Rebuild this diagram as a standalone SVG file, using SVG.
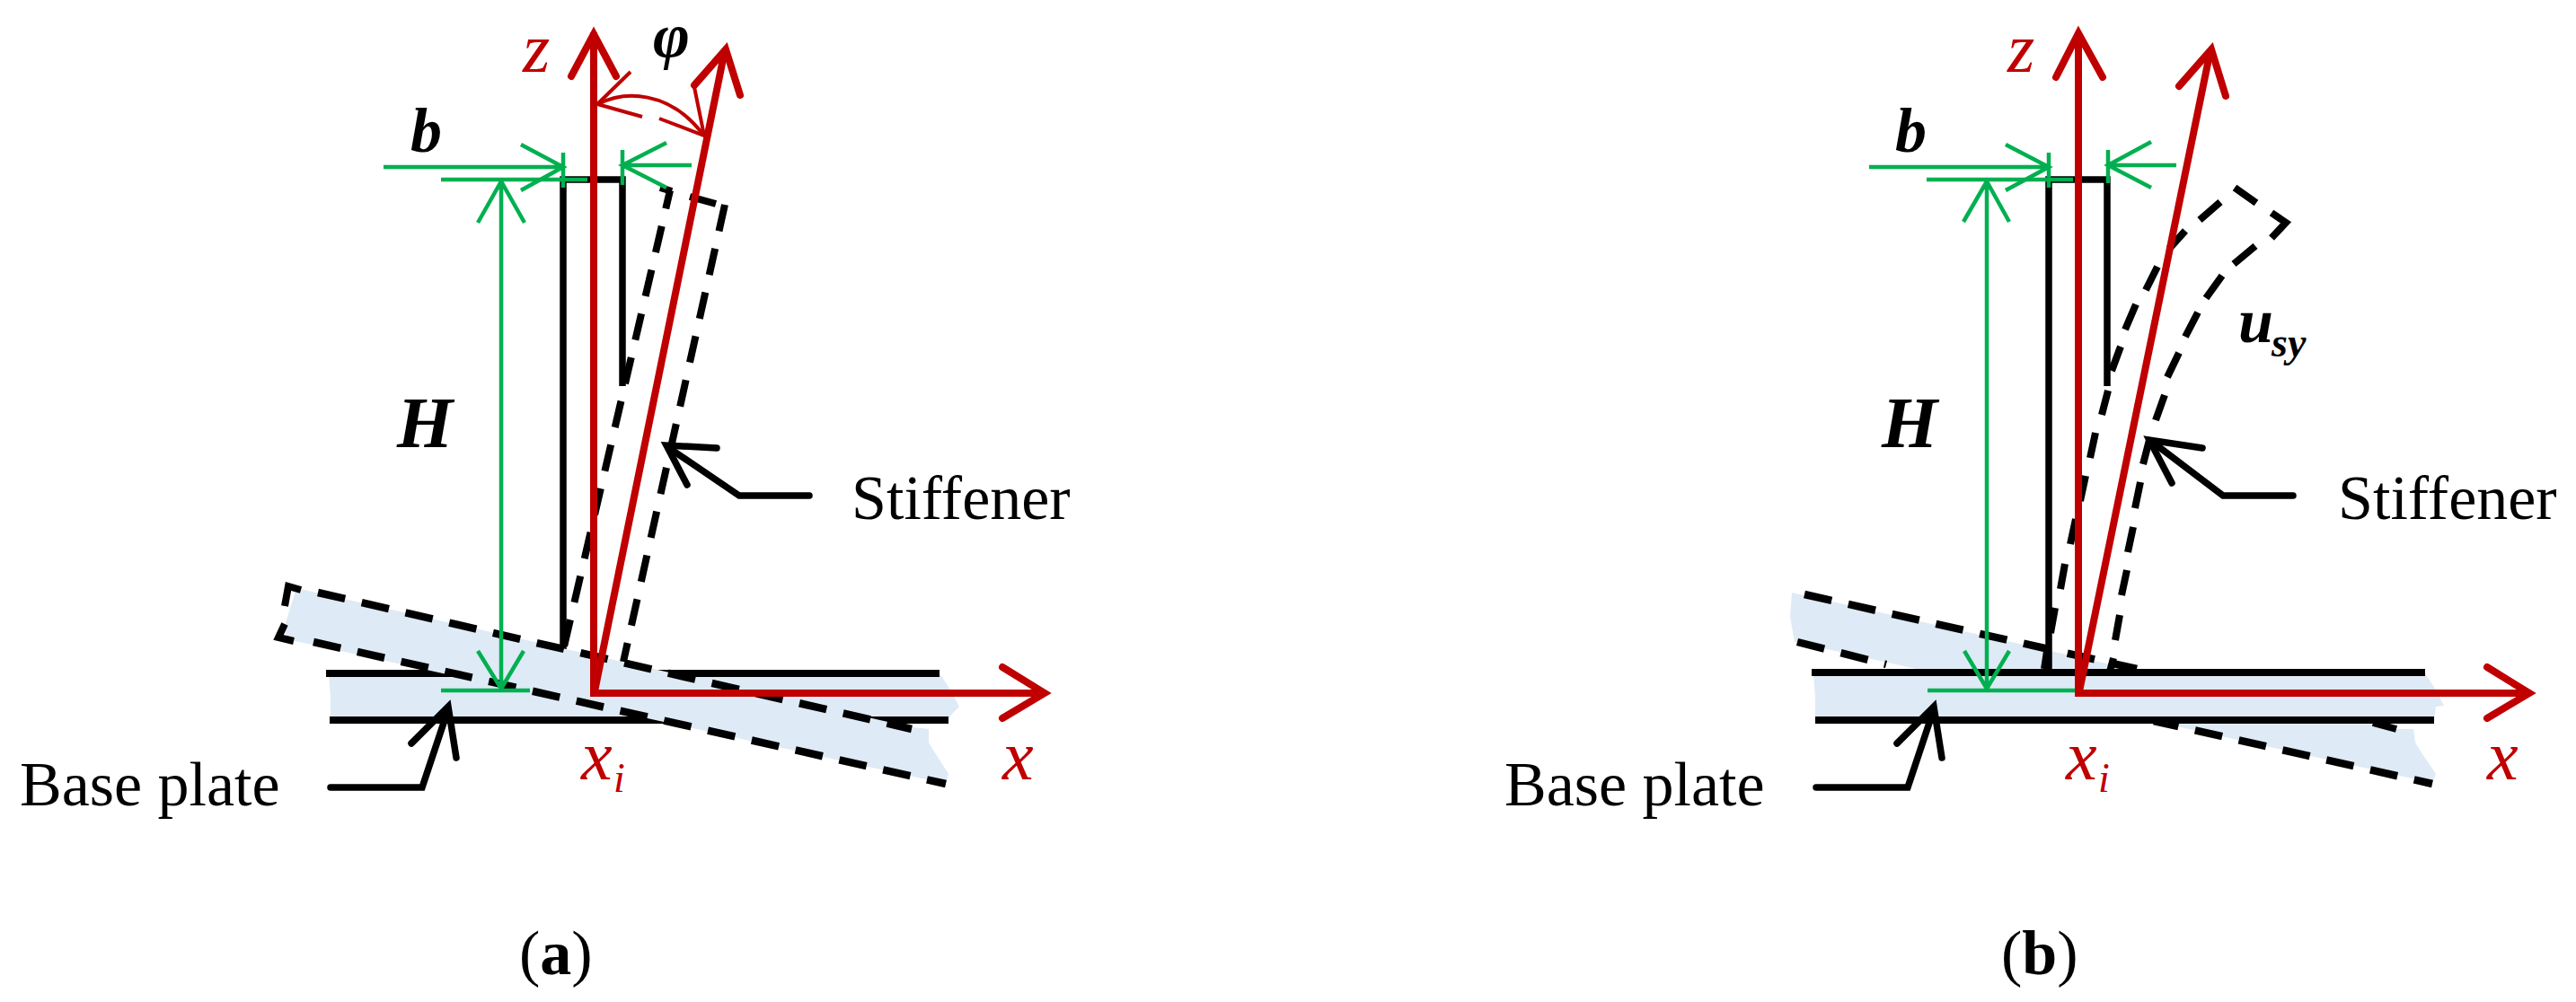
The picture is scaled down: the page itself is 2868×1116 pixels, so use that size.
<svg xmlns="http://www.w3.org/2000/svg" width="2868" height="1116" viewBox="0 0 2868 1116">
<style>
.plate{fill:#DEEAF6;stroke:none}
.k{fill:none;stroke:#000;stroke-width:8}
.ks{fill:none;stroke:#000;stroke-width:7.5}
.kd{fill:none;stroke:#000;stroke-width:8}
.d{fill:none;stroke:#000;stroke-width:8.5;stroke-dasharray:31 19}
.ds{fill:none;stroke:#000;stroke-width:8;stroke-dasharray:30 20}
.pt{fill:none;stroke:#000;stroke-width:7.5;stroke-linecap:round;stroke-linejoin:miter}
.r{fill:none;stroke:#C00000;stroke-width:8}
.rh{fill:none;stroke:#C00000;stroke-width:8;stroke-linecap:round;stroke-linejoin:miter}
.ra{fill:none;stroke:#C00000;stroke-width:4}
.g{fill:none;stroke:#00B050;stroke-width:4.5}
text{font-family:"Liberation Serif","Times New Roman",serif;font-size:70px}
.red{fill:#C00000;font-style:italic;font-size:78px}
.bi{font-weight:bold;font-style:italic}
.hh{font-size:80px}
.sub{font-size:46px}
</style>
<rect width="2868" height="1116" fill="#fff"/>

<g id="panel-a-base-plate">
<polygon class="plate" points="366,750 1046,750 1056,765 1068,787 1058,797 1056,802 368,802 368,777"/>
<path class="k" d="M363,750H1046M367,802H1056"/>
</g>
<g id="panel-a-stiffener">
<path class="ks" d="M627,730V200H693V430"/>
</g>
<g id="panel-a-deformed-plate">
<polygon class="plate" points="330,655 1015,810 1034,812 1034,827 1042,840 1056,862 1053,873 320,712 316,700"/>
<path class="d" d="M354,660L1015,812"/>
<path class="d" d="M349,715L1053,873"/>
<path class="k" d="M335,657L321,653L317,675M317,695L310,710L327,714"/>
</g>
<g id="panel-a-deformed-stiffener">
<path class="ds" stroke-dashoffset="9" d="M746,212L628,720"/>
<path class="ds" d="M807,228L694,737"/>
<path class="kd" d="M735,209L748,213M768,219L797,227"/>
</g>

<g id="panel-b-deformed-plate">
<polygon class="plate" points="1995,660 2669,812 2687,812 2689,827 2697,840 2712,862 2708,872 1998,715 1993,687"/>
<path class="d" d="M2009,662L2379,745"/>
<path class="d" d="M2001,715L2100,740"/>
<path class="d" d="M2398,803L2708,873" stroke-dashoffset="3"/>
<path class="kd" d="M2642,805L2668,812"/>
</g>
<g id="panel-b-deformed-stiffener">
<path class="kd" d="M2488,209L2512,226M2449,245L2472,225M2433,257L2415,277M2402,297L2389,323M2378,339L2366,367M2361,386L2351,413M2347,435L2340,462M2333,482L2327,510M2322,530L2316,558M2311,578L2305,606M2299,628L2294,656M2288,677L2283,705M2279,725L2276,745"/>
<path class="kd" d="M2529,237L2545,248L2529,265M2511,274L2487,294M2474,307L2456,332M2447,348L2433,375M2426,393L2413,420M2410,440L2400,468M2393,490L2386,517M2383,537L2377,566M2375,587L2369,615M2368,635L2362,663M2360,685L2355,713M2353,733L2349,748"/>
</g>
<g id="panel-b-stiffener">
<path class="ks" d="M2281,745V200H2346V430"/>
</g>
<g id="panel-b-base-plate">
<polygon class="plate" points="2019,750 2700,750 2711,767 2721,786 2712,787 2710,802 2021,802 2021,777"/>
<path class="k" d="M2017,749H2700M2021,802H2710"/>
</g>

<g id="connectors">
<g id="pointers">
<path class="pt" d="M368,877H470L499,790"/>
<path class="pt" d="M458,828L499,787L508,844"/>
<path class="pt" d="M901,552H823L745,499" stroke-linecap="butt"/>
<path class="pt" d="M798,499L742,496L765,540"/>
<path class="pt" d="M2022,877H2124L2153,790"/>
<path class="pt" d="M2112,828L2153,787L2162,844"/>
<path class="pt" d="M2553,552H2475L2396,492" stroke-linecap="butt"/>
<path class="pt" d="M2452,499L2393,490L2418,538"/>
</g>
<g id="dimensions-a">
<path class="g" d="M427,186H627M580,161L627,186L580,212M627,170V209"/>
<path class="g" d="M770,184H693M742,159L693,184L742,209M693,167V206"/>
<path class="g" d="M491,200H654M491,769H590"/>
<path class="g" stroke-width="4" d="M558,202V767M532,248L558,202L584,248M532,725L558,767L583,725"/>
</g>
<g id="dimensions-b">
<path class="g" d="M2081,186H2281M2233,161L2281,186L2233,212M2281,170V209"/>
<path class="g" d="M2423,184H2347M2395,158L2347,184L2395,209M2347,167V204"/>
<path class="g" d="M2145,200H2308M2146,769H2313"/>
<path class="g" d="M2212,202V767M2186,247L2212,202L2237,247M2187,725L2212,767L2237,725"/>
</g>
<g id="axes-a">
<path class="r" d="M661,776V36"/>
<path class="rh" d="M636,85L661,38L686,85"/>
<path class="r" d="M657,772H1163"/>
<path class="rh" d="M1116,743L1163,772L1116,800"/>
<path class="r" d="M661,775L807,56"/>
<path class="rh" d="M773,95L808,55L824,106"/>
<path class="ra" d="M666,116C695,101 745,100 783,150"/>
<path class="ra" d="M702,80L665,116L715,130M734,132L784,151L773,97"/>
</g>
<g id="axes-b">
<path class="r" d="M2314,776V36"/>
<path class="rh" d="M2289,86L2314,37L2341,86"/>
<path class="r" d="M2310,772H2816"/>
<path class="rh" d="M2769,743L2816,772L2769,800"/>
<path class="r" stroke-width="7" d="M2314,775L2461,56"/>
<path class="rh" d="M2426,96L2462,55L2478,107"/>
</g>
</g>

<g id="labels-a">
<text class="red" x="582" y="80">z</text>
<text class="bi" x="727" y="63">φ</text>
<text class="bi" x="457" y="169">b</text>
<text class="bi hh" x="442" y="498">H</text>
<text x="948" y="578">Stiffener</text>
<text x="22" y="897">Base plate</text>
<text class="red" x="647" y="868">x</text>
<text class="red sub" x="683" y="882" style="font-size:46px">i</text>
<text class="red" x="1116" y="868">x</text>
<text x="578" y="1085">(<tspan font-weight="bold">a</tspan>)</text>
</g>
<g id="labels-b">
<text class="red" x="2235" y="80">z</text>
<text class="bi" x="2110" y="169">b</text>
<text class="bi hh" x="2095" y="498">H</text>
<text class="bi" x="2492" y="381">u</text>
<text class="bi sub" x="2529" y="397">sy</text>
<text x="2603" y="578">Stiffener</text>
<text x="1675" y="897">Base plate</text>
<text class="red" x="2300" y="868">x</text>
<text class="red sub" x="2336" y="882" style="font-size:46px">i</text>
<text class="red" x="2769" y="868">x</text>
<text x="2228" y="1085">(<tspan font-weight="bold">b</tspan>)</text>
</g>
</svg>
